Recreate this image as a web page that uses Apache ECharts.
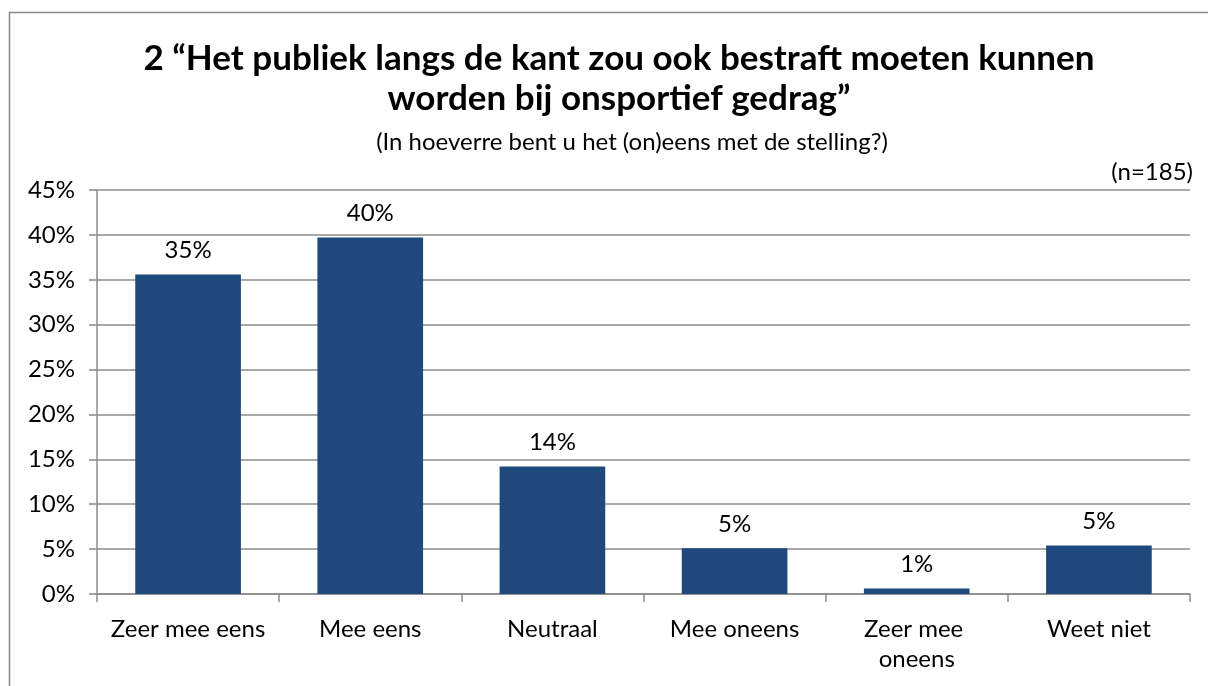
<!DOCTYPE html>
<html>
<head>
<meta charset="utf-8">
<script src="https://cdn.jsdelivr.net/npm/echarts@6/dist/echarts.min.js"></script>
<style>
  html, body { margin: 0; padding: 0; background: #fff; }
  #chart { width: 1208px; height: 686px; }
</style>
</head>
<body>
<div id="chart"></div>
<script>
const categories = ['Zeer mee eens', 'Mee eens', 'Neutraal', 'Mee oneens', 'Zeer mee oneens', 'Weet niet'];
const values = [35.6, 39.7, 14.2, 5.1, 0.6, 5.4];
const valueLabels = ['35%', '40%', '14%', '5%', '1%', '5%'];

const FONT = 'Lato, "Open Sans", "Noto Sans", sans-serif';
const chart = echarts.init(document.getElementById('chart'));

chart.setOption({
  animation: false,
  textStyle: { fontFamily: FONT },
  title: [
    {
      text: '2 \u201cHet publiek langs de kant zou ook bestraft moeten kunnen\nworden bij onsportief gedrag\u201d',
      left: 614, top: 34, textAlign: 'center',
      textStyle: { fontSize: 35, fontWeight: 'bold', color: '#000', lineHeight: 40, fontFamily: FONT }
    },
    {
      text: '(In hoeverre bent u het (on)eens met de stelling?)',
      left: 627, top: 125, textAlign: 'center',
      textStyle: { fontSize: 24, fontWeight: 'normal', color: '#000', fontFamily: FONT }
    },
    {
      text: '(n=185)',
      right: 10, top: 155,
      textStyle: { fontSize: 24, fontWeight: 'normal', color: '#000', fontFamily: FONT }
    }
  ],
  graphic: [{
    type: 'rect', shape: { x: 9.5, y: 12.5, width: 1240, height: 700 },
    style: { fill: 'none', stroke: '#888', lineWidth: 1.5 }, silent: true
  }],
  grid: { left: 97, right: 18, top: 190, bottom: 92 },
  xAxis: {
    type: 'category',
    data: categories,
    axisLine: { lineStyle: { color: '#8c8c8c', width: 1.5 } },
    axisTick: { show: true, length: 8, interval: 0, lineStyle: { color: '#8c8c8c', width: 1.5 } },
    axisLabel: {
      interval: 0, margin: 20, color: '#000', fontSize: 24, fontFamily: FONT,
      lineHeight: 30, width: 165, overflow: 'break'
    }
  },
  yAxis: {
    type: 'value',
    min: 0, max: 45, interval: 5,
    axisLine: { show: true, lineStyle: { color: '#8c8c8c', width: 1.5 } },
    axisTick: { show: true, length: 8, lineStyle: { color: '#8c8c8c', width: 1.5 } },
    axisLabel: { formatter: '{value}%', color: '#000', fontSize: 24, margin: 22, fontFamily: FONT },
    splitLine: { lineStyle: { color: '#8c8c8c', width: 1.5 } }
  },
  series: [{
    type: 'bar',
    data: values,
    barWidth: '58%',
    itemStyle: { color: '#1f497d' },
    label: {
      show: true, position: 'top', distance: 12,
      color: '#000', fontSize: 24, fontFamily: FONT,
      formatter: p => valueLabels[p.dataIndex]
    }
  }]
});
</script>
</body>
</html>
